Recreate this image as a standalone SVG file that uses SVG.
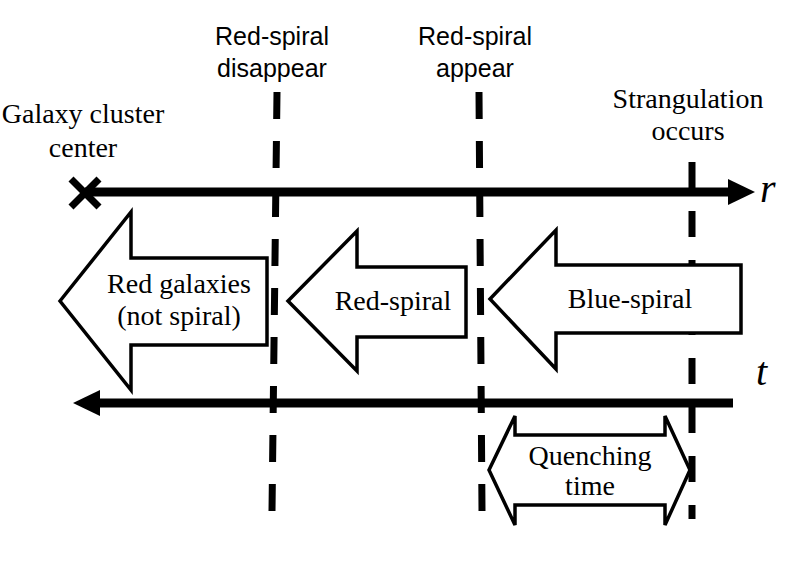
<svg xmlns="http://www.w3.org/2000/svg" width="792" height="568" viewBox="0 0 792 568">
<defs>
<style>
.serif{font-family:"Liberation Serif","Times New Roman",serif;font-size:28px;fill:#000;text-anchor:middle}
.sans{font-family:"Liberation Sans",Arial,sans-serif;font-size:25px;fill:#000;text-anchor:middle}
.var{font-family:"Liberation Serif","Times New Roman",serif;font-size:40px;font-style:italic;fill:#000}
.axis{stroke:#000;stroke-width:9;fill:none}
.dash{stroke:#000;stroke-width:7;fill:none;stroke-dasharray:27 22}
.dash3{stroke:#000;stroke-width:7;fill:none;stroke-dasharray:26 23}
.block{fill:#fff;stroke:#000;stroke-width:3.5;stroke-linejoin:miter}
</style>
</defs>
<rect width="792" height="568" fill="#fff"/>
<g id="connectors">
  <line class="dash" x1="277" y1="92" x2="272" y2="511"/>
  <line class="dash" x1="479" y1="92" x2="482" y2="511"/>
  <line class="dash3" x1="692" y1="162" x2="692" y2="519"/>
  <line class="axis" x1="85" y1="192" x2="730" y2="192"/>
  <polygon points="728,179 755,192 728,205" fill="#000"/>
  <line class="axis" x1="733" y1="403" x2="98" y2="403"/>
  <polygon points="100,390 73,403 100,416" fill="#000"/>
  <g stroke="#000" stroke-width="7">
    <line x1="71" y1="179" x2="99" y2="207"/>
    <line x1="71" y1="207" x2="99" y2="179"/>
  </g>
</g>
<g id="label-center">
  <text class="serif" x="83" y="123">Galaxy cluster</text>
  <text class="serif" x="83" y="157">center</text>
</g>
<g id="label-disappear">
  <text class="sans" x="272" y="45">Red-spiral</text>
  <text class="sans" x="272" y="77">disappear</text>
</g>
<g id="label-appear">
  <text class="sans" x="475" y="45">Red-spiral</text>
  <text class="sans" x="475" y="77">appear</text>
</g>
<g id="label-strangulation">
  <text class="serif" x="688" y="108">Strangulation</text>
  <text class="serif" x="688" y="140">occurs</text>
</g>
<g id="label-r"><text class="var" x="760" y="202">r</text></g>
<g id="label-t"><text class="var" x="756" y="385">t</text></g>
<g id="red-galaxies">
  <path class="block" d="M60,301 L131,212 L131,258 L267,258 L267,345 L131,345 L131,390 Z"/>
  <text class="serif" x="179" y="293">Red galaxies</text>
  <text class="serif" x="179" y="325">(not spiral)</text>
</g>
<g id="red-spiral">
  <path class="block" d="M288,301 L357,231 L357,267 L466,267 L466,337 L357,337 L357,371 Z"/>
  <text class="serif" x="393" y="310">Red-spiral</text>
</g>
<g id="blue-spiral">
  <path class="block" d="M490,299 L556,230 L556,265 L741,265 L741,333 L556,333 L556,369 Z"/>
  <text class="serif" x="630" y="308">Blue-spiral</text>
</g>
<g id="quenching-time">
  <path class="block" d="M489,470 L515,416 L515,435 L665,435 L665,416 L690,470 L665,525 L665,505 L515,505 L515,525 Z"/>
  <text class="serif" x="590" y="465">Quenching</text>
  <text class="serif" x="590" y="495">time</text>
</g>
</svg>
